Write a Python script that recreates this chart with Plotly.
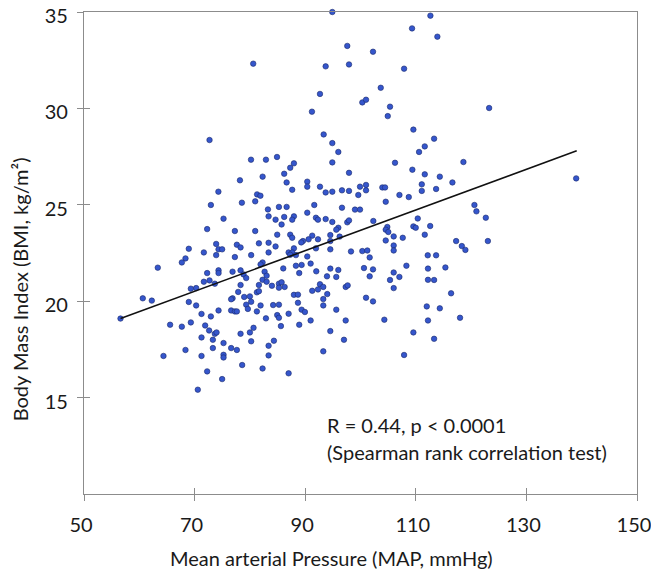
import plotly.graph_objects as go

# --- data (MAP mmHg, BMI kg/m^2) ---
map_x = [
    80.6, 72.7, 80.2, 82.9, 84.9, 78.2, 82.3, 74.3, 81.3, 81.9,
    72.94, 78.55, 80.96, 83.26, 83.38, 75.23, 72.27, 77.28, 80.96, 73.9,
    77.64, 78.31, 81.63, 83.38, 68.95, 74.33, 74.98, 71.67, 73.9, 77.28,
    80.23, 83.38, 68.35,
    63.34, 67.69, 72.27, 74.33, 74.33, 76.86, 78.31, 78.85, 79.33, 82.29,
    81.93, 82.66, 83.02, 82.29, 83.02, 71.67, 72.7, 73.66, 78.31, 81.63,
    69.32, 70.28, 77.88, 81.26, 81.63, 60.63, 62.26, 68.95, 70.28, 76.86,
    76.61, 78.97, 80.0, 80.23, 79.33, 79.63, 81.93, 74.33, 76.61, 77.28,
    77.64, 81.26, 71.25, 72.94, 82.9, 65.57, 67.69, 69.32, 71.91, 72.63,
    73.66, 73.97, 78.31, 80.0, 80.66, 71.25, 73.3, 80.23, 75.23, 83.38,
    68.35, 73.3, 76.61, 77.64, 64.37, 71.25, 75.23, 75.23, 83.38, 78.6,
    82.29, 72.27, 74.98, 70.58, 56.6,
    93.34, 94.9, 95.99, 87.96, 87.29, 94.9, 86.2, 86.64, 87.65, 90.37,
    90.37, 92.67, 93.7, 94.9, 96.65, 97.92, 97.92, 99.91, 101.0, 101.0,
    99.6, 103.95, 104.44, 106.24, 109.56, 110.59, 111.62, 109.38, 111.62, 111.08,
    111.08, 107.04, 108.73, 104.56, 91.64, 85.25, 86.64, 96.65, 99.0, 99.91,
    90.37, 84.64, 86.2, 87.96, 87.65, 91.94, 92.31, 93.7, 94.9, 97.61,
    97.92, 102.32, 110.35, 85.73, 95.99, 95.62, 104.85, 104.56, 105.03, 109.56,
    109.99, 111.62, 84.94, 87.29, 87.65, 91.27, 94.54, 96.23, 90.61, 89.59,
    89.28, 92.31, 94.54, 104.56, 106.0, 107.64, 106.0, 106.0, 84.64, 87.96,
    87.0, 87.65, 87.29, 88.32, 91.94, 94.54, 90.37, 98.28, 100.33, 101.23,
    101.66, 112.16,
    86.03, 88.32, 89.35, 88.92, 90.98, 92.0, 94.54, 95.99, 93.94, 95.62,
    100.63, 102.26, 101.66, 108.3, 106.0, 107.03, 105.34, 106.0, 112.2, 112.2,
    85.25, 85.73, 85.25, 86.28, 83.98, 92.67, 93.27, 92.31, 91.27, 93.99,
    97.32, 97.68, 87.96, 88.69, 93.27, 88.69, 93.27, 84.2, 85.25, 101.0,
    102.26, 111.98, 89.35, 89.95, 95.62, 84.94, 85.25, 87.0, 90.98, 97.32,
    104.31, 112.2, 85.61, 88.92, 94.54, 109.56, 84.34, 97.01, 93.27, 107.88,
    87.0,
    113.31, 118.61, 114.34, 116.62, 113.67, 139.0, 120.6, 120.96, 122.66, 112.6,
    117.29, 118.32, 118.97, 123.03, 113.67,
    115.35, 113.31, 116.38, 114.34, 118.0, 113.31,
    94.9, 112.64, 109.32, 113.9, 97.61, 102.26, 93.7, 97.92, 107.88, 103.66,
    92.67, 100.33, 101.0, 105.34, 91.22, 104.93, 123.26,
]
bmi_y = [
    32.32, 28.36, 27.34, 27.34, 27.48, 26.27, 26.46, 25.68, 25.54, 25.47,
    24.99, 25.11, 25.18, 24.76, 24.40, 24.28, 23.74, 23.64, 23.64, 22.97,
    22.93, 22.79, 23.0, 23.03, 22.72, 22.69, 22.69, 22.53, 22.39, 22.29,
    22.39, 22.53, 22.22,
    21.74, 22.01, 21.46, 21.6, 21.46, 21.53, 21.6, 21.39, 21.2, 22.01,
    21.91, 21.53, 21.32, 21.11, 21.01, 21.01, 21.08, 20.91, 20.84, 20.84,
    20.65, 20.68, 20.48, 20.46, 20.52, 20.15, 20.03, 19.96, 19.78, 20.15,
    20.1, 20.22, 20.25, 19.97, 19.82, 19.6, 19.78, 19.52, 19.52, 19.47,
    19.47, 19.47, 19.34, 19.21, 19.11, 18.78, 18.68, 18.9, 18.74, 18.48,
    18.31, 18.38, 18.31, 18.38, 18.62, 18.12, 18.0, 17.92, 17.83, 17.69,
    17.47, 17.57, 17.57, 17.47, 17.16, 17.16, 17.22, 17.08, 17.19, 16.69,
    16.51, 16.36, 15.96, 15.41, 19.1,
    28.65, 28.2, 27.74, 27.15, 26.92, 27.2, 26.61, 26.16, 25.78, 26.2,
    25.94, 25.94, 25.64, 25.68, 25.75, 25.72, 26.66, 25.94, 26.03, 25.75,
    25.51, 25.9, 25.9, 27.18, 28.9, 27.74, 28.03, 26.82, 26.58, 26.06,
    25.72, 25.51, 25.4, 25.16, 24.99, 24.89, 24.89, 24.85, 24.75, 24.75,
    24.59, 24.23, 24.37, 24.4, 24.23, 24.33, 24.23, 24.26, 24.11, 24.09,
    24.19, 24.16, 24.29, 23.98, 23.81, 23.71, 23.85, 23.71, 23.59, 23.88,
    23.81, 23.45, 23.45, 23.45, 23.29, 23.4, 23.43, 23.35, 23.21, 23.12,
    23.05, 23.21, 23.12, 23.15, 23.36, 23.29, 22.89, 22.63, 22.84, 22.74,
    22.53, 22.53, 22.41, 22.39, 22.74, 22.69, 22.32, 22.58, 22.6, 22.63,
    22.27, 22.38,
    21.7, 21.84, 21.88, 21.46, 21.95, 21.55, 21.69, 21.62, 21.29, 21.26,
    21.72, 21.65, 21.29, 21.84, 21.49, 21.26, 21.1, 20.68, 21.69, 21.11,
    20.91, 20.98, 20.7, 20.74, 20.8, 20.88, 20.74, 20.61, 20.54, 20.37,
    20.74, 20.82, 20.33, 20.34, 20.11, 19.92, 19.78, 19.8, 19.82, 20.18,
    19.99, 19.73, 19.56, 19.44, 19.56, 19.28, 19.14, 19.35, 19.0, 19.0,
    19.04, 19.0, 18.71, 18.78, 18.45, 18.38, 17.95, 18.0, 17.4, 17.21,
    16.26,
    28.43, 27.22, 26.46, 26.16, 25.82, 26.37, 24.99, 24.66, 24.33, 23.9,
    23.12, 22.86, 22.66, 23.12, 22.38,
    21.75, 21.1, 20.41, 19.63, 19.14, 18.05,
    35.0, 34.81, 34.15, 33.72, 33.24, 32.94, 32.18, 32.28, 32.06, 31.07,
    30.75, 30.31, 30.45, 30.09, 29.83, 29.6, 30.02,
]

# regression line end points
fit_x = [56.6, 139.1]
fit_y = [19.1, 27.8]

x_ticks = [50, 70, 90, 110, 130, 150]
y_ticks = [15, 20, 25, 30, 35]

x_title = "Mean arterial Pressure (MAP, mmHg)"
y_title = "Body Mass Index (BMI, kg/m²)"
stat_lines = ["R = 0.44, p < 0.0001", "(Spearman rank correlation test)"]

FONT = "Lato, 'Open Sans', sans-serif"
TXT = "#1a1a1a"
GRAY = "#8c8c8c"

fig = go.Figure()
fig.add_trace(go.Scatter(
    x=map_x, y=bmi_y, mode="markers",
    marker=dict(size=5.5, color="#3556cc", line=dict(width=0.6, color="#1b2a6b")),
    cliponaxis=False, showlegend=False,
))
fig.add_trace(go.Scatter(
    x=fit_x, y=fit_y, mode="lines",
    line=dict(color="#111111", width=1.6), showlegend=False,
))
# empty trace so the overlay axes (used for inward tick halves) are drawn
fig.add_trace(go.Scatter(x=[], y=[], xaxis="x2", yaxis="y2", showlegend=False,
                         hoverinfo="skip"))

axis_common = dict(showgrid=False, zeroline=False, automargin=False)
fig.update_layout(
    width=651, height=569,
    margin=dict(l=84, r=14, t=12, b=75, autoexpand=False),
    paper_bgcolor="white", plot_bgcolor="white",
    font=dict(family=FONT, size=20, color=TXT),
    xaxis=dict(range=[50, 150], tickvals=x_ticks, ticks="outside", ticklen=6,
               tickcolor=GRAY, tickwidth=1.3, showline=True, linecolor=GRAY,
               linewidth=1.3, mirror=True, ticklabelstandoff=7,
               ticklabelshift=-3, ticklabeloverflow="allow",
               tickfont=dict(size=20, family=FONT, color=TXT), **axis_common),
    yaxis=dict(range=[10, 35], tickvals=y_ticks, ticks="outside", ticklen=6,
               tickcolor=GRAY, tickwidth=1.3, showline=True, linecolor=GRAY,
               linewidth=1.3, mirror=True, ticklabelstandoff=5,
               ticklabelshift=4, ticklabeloverflow="allow",
               tickfont=dict(size=20, family=FONT, color=TXT), **axis_common),
    xaxis2=dict(range=[50, 150], overlaying="x", anchor="y", side="bottom",
                tickvals=x_ticks, ticks="inside", ticklen=6, tickcolor=GRAY,
                tickwidth=1.3, showticklabels=False, showline=False, **axis_common),
    yaxis2=dict(range=[10, 35], overlaying="y", anchor="x", side="left",
                tickvals=y_ticks, ticks="inside", ticklen=6, tickcolor=GRAY,
                tickwidth=1.3, showticklabels=False, showline=False, **axis_common),
    annotations=[
        dict(text=x_title, xref="paper", yref="paper", x=0.4484, y=-0.132,
             xanchor="center", yanchor="middle", showarrow=False,
             font=dict(size=20, family=FONT, color=TXT)),
        dict(text=y_title, xref="paper", yref="paper", x=-0.1164, y=0.424,
             xanchor="center", yanchor="middle", textangle=-90, showarrow=False,
             font=dict(size=20, family=FONT, color=TXT)),
        dict(text=stat_lines[0], xref="x", yref="y", x=93.57, y=13.56,
             xanchor="left", yanchor="middle", showarrow=False,
             font=dict(size=20, family=FONT, color=TXT)),
        dict(text=stat_lines[1], xref="x", yref="y", x=93.57, y=12.16,
             xanchor="left", yanchor="middle", showarrow=False,
             font=dict(size=20, family=FONT, color=TXT)),
    ],
)

fig.write_html("out.html", config={"displayModeBar": False},
               post_script="document.body.style.margin='0';")
